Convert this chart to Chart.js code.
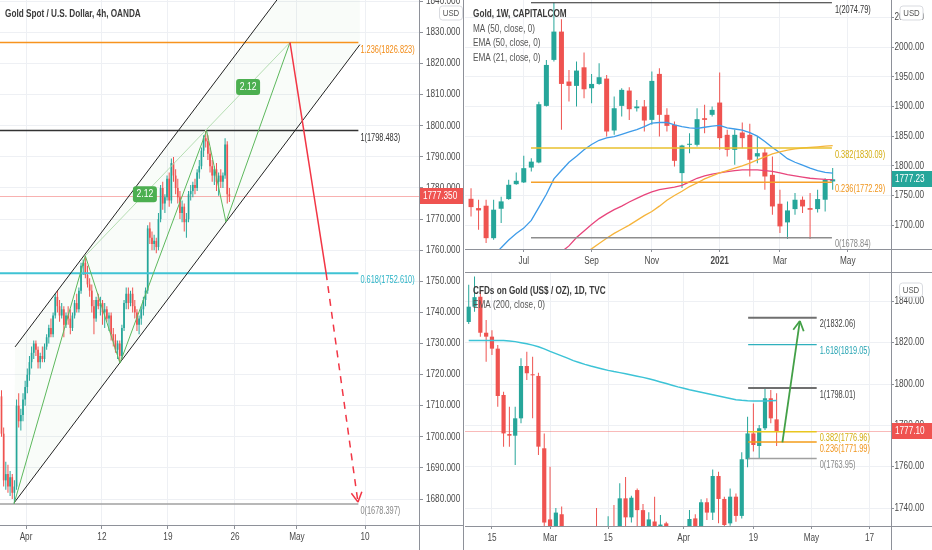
<!DOCTYPE html>
<html>
<head>
<meta charset="utf-8">
<title>Gold - 4h / 1W / 1D</title>
<script src="https://cdn.jsdelivr.net/npm/chart.js@4.4.1/dist/chart.umd.min.js"></script>
<style>
  html, body { margin: 0; padding: 0; background: #fff; }
  body { position: relative; width: 932px; height: 550px; overflow: hidden; }
  canvas { position: absolute; }
  #left { left: 0; top: 0; }
  #weekly { left: 465px; top: 0; }
  #daily { left: 465px; top: 273px; }
</style>
</head>
<body>
<canvas id="left" width="464" height="550"></canvas>
<canvas id="weekly" width="467" height="273"></canvas>
<canvas id="daily" width="467" height="277"></canvas>
<script>
const UP = '#26a69a';
const DOWN = '#ef5350';
const GRID = '#eef0f4';
const AXIS = '#8e9199';
const TXT = '#4a4a4a';
const FONT = '"Liberation Sans", Arial, sans-serif';

// ---- Gold Spot / U.S. Dollar, 4h, OANDA  [open, high, low, close]
const leftCandles = [
  [1713, 1715, 1700, 1701], [1701, 1703, 1684, 1686], [1686, 1692, 1683, 1688], [1688, 1691, 1682, 1684],
  [1684, 1689, 1681, 1687], [1687, 1688, 1680, 1682], [1682, 1686, 1678.4, 1684], [1684, 1712, 1683, 1710],
  [1710, 1714, 1703, 1705], [1705, 1709, 1702, 1707], [1707, 1714, 1705, 1712], [1712, 1718, 1710, 1716],
  [1716, 1722, 1714, 1720], [1720, 1726, 1718, 1724], [1724, 1729, 1722, 1727], [1727, 1731, 1725, 1730],
  [1730, 1731, 1726, 1728], [1728, 1729, 1722, 1724], [1724, 1727, 1722, 1726], [1726, 1729, 1724, 1725],
  [1725, 1730, 1724, 1729], [1729, 1733, 1728, 1732], [1732, 1736, 1730, 1735], [1735, 1738, 1732, 1733],
  [1733, 1740, 1732, 1739], [1739, 1746, 1738, 1745], [1745, 1747, 1740, 1742], [1742, 1744, 1737, 1739],
  [1739, 1743, 1738, 1741], [1741, 1742, 1732, 1736], [1736, 1740, 1735, 1739], [1739, 1742, 1736, 1738],
  [1738, 1741, 1733, 1735], [1735, 1740, 1734, 1739], [1739, 1744, 1738, 1743], [1743, 1746, 1740, 1741],
  [1741, 1748, 1740, 1747], [1747, 1756, 1746, 1755], [1755, 1757, 1752, 1756], [1756, 1758.2, 1751, 1752],
  [1752, 1755, 1748, 1749], [1749, 1751, 1745, 1747], [1747, 1749, 1740, 1742], [1742, 1744, 1733, 1738],
  [1738, 1745, 1737, 1744], [1744, 1746, 1741, 1742], [1742, 1745, 1739, 1743], [1743, 1744, 1736, 1740],
  [1740, 1743, 1735, 1741], [1741, 1742, 1737, 1738], [1738, 1740, 1734, 1739], [1739, 1740, 1731, 1733],
  [1733, 1735, 1729, 1731], [1731, 1733, 1727, 1728], [1728, 1731, 1725, 1730], [1730, 1731, 1723.7, 1726],
  [1726, 1736, 1725, 1735], [1735, 1744, 1734, 1743], [1743, 1748, 1741, 1746], [1746, 1748, 1741, 1743],
  [1743, 1747, 1742, 1746], [1746, 1748, 1740, 1742], [1742, 1744, 1738, 1740], [1740, 1741, 1734, 1736],
  [1736, 1739, 1733, 1738], [1738, 1742, 1736, 1741], [1741, 1745, 1739, 1744], [1744, 1748, 1742, 1747],
  [1747, 1768, 1746, 1767], [1767, 1769, 1762, 1764], [1764, 1766, 1760, 1762], [1762, 1765, 1760, 1763],
  [1763, 1764, 1759, 1761], [1761, 1772, 1760, 1770], [1770, 1781, 1769, 1780], [1780, 1782, 1773, 1775],
  [1775, 1778, 1772, 1777], [1777, 1784, 1776, 1783], [1783, 1785, 1774, 1776], [1776, 1789.5, 1775, 1788],
  [1788, 1790, 1782, 1784], [1784, 1786, 1778, 1780], [1780, 1783, 1775, 1777], [1777, 1779, 1770, 1772],
  [1772, 1776, 1769, 1774], [1774, 1775, 1766, 1769], [1769, 1772, 1764, 1770], [1770, 1779, 1769, 1778],
  [1778, 1781, 1776, 1779], [1779, 1782, 1777, 1781], [1781, 1783, 1778, 1780], [1780, 1786, 1779, 1785],
  [1785, 1789, 1783, 1787], [1787, 1793, 1786, 1792], [1792, 1797, 1790, 1796], [1796, 1798.48, 1793, 1795],
  [1795, 1797, 1789, 1791], [1791, 1793, 1785, 1787], [1787, 1789, 1782, 1784], [1784, 1787, 1781, 1786],
  [1786, 1788, 1779, 1782], [1782, 1785, 1777.5, 1784], [1784, 1786, 1780, 1782], [1782, 1785, 1780, 1784],
  [1784, 1796, 1783, 1794], [1794, 1795, 1775, 1778], [1778, 1780, 1775.5, 1777.35]
];
const leftPriceTicks = [1680, 1690, 1700, 1710, 1720, 1730, 1740, 1750, 1760, 1770, 1780, 1790, 1800, 1810, 1820, 1830, 1840];
const leftDateTicks = [11.4, 46.7, 77.4, 108.6, 137.4, 169.1];
const leftDateLabels = ['Apr', '12', '19', '26', 'May', '10'];
const leftFibLevels = [1.236, 1, 0.618, 0];
const leftFibPrices = [1826.823, 1798.483, 1752.61, 1678.397];
// drawing anchors, [bar, price]
const leftChannelLow = [[5.8, 1678.7], [166.7, 1826.1]];
const leftChannelHigh = [[6.3, 1728.9], [166.7, 1875.8]];
const leftZigzag = [[5.8, 1678.4], [39, 1758.2], [55.1, 1723.7], [95.4, 1798.48], [104.4, 1769.1], [134.2, 1826.82]];
const leftTarget = [[134.2, 1826.82], [151, 1752.61], [165.8, 1679]];
const leftRatioTags = [[66.7, 1778], [114.7, 1812.5]];

// ---- Gold, 1W, CAPITALCOM
const weekCandles = [
  [1744.4, 1762, 1714.7, 1730.4], [1728.7, 1742.8, 1692, 1724.8], [1732.7, 1742.8, 1669.8, 1678], [1678, 1742.8, 1675.4, 1726],
  [1727.6, 1748, 1703.5, 1740], [1743.9, 1776.4, 1742.8, 1768], [1769, 1788.8, 1768, 1774.7], [1772, 1816.8, 1770.8, 1796],
  [1797, 1812.9, 1790.5, 1807], [1805.6, 1908, 1804.5, 1903.8], [1901, 1978.5, 1899.9, 1970], [1978.5, 2074.79, 1975.6, 2026.2],
  [2026.2, 2047, 1860.6, 1938], [1942, 1961.6, 1908.3, 1934.7], [1934.7, 1975.6, 1899.9, 1960.5], [1966, 1990.8, 1913.9, 1929],
  [1930.7, 1954.9, 1905.5, 1938], [1938, 1972.8, 1936.4, 1949.3], [1947, 1953.2, 1849.4, 1857.8], [1859.5, 1916.7, 1852.2, 1897],
  [1901, 1930.7, 1883, 1928], [1926.8, 1932.4, 1877.4, 1895.4], [1897, 1911, 1891.5, 1900], [1900, 1911, 1857.8, 1876.3],
  [1877.4, 1958.8, 1869, 1943.1], [1954.9, 1964.4, 1849.4, 1885.9], [1885.9, 1897.1, 1857.8, 1867.3], [1869, 1874.6, 1798.9, 1808.4],
  [1787.7, 1835.4, 1762.4, 1834.2], [1835.4, 1855, 1821.3, 1837], [1835.4, 1897.1, 1832.5, 1878.6], [1880.2, 1902.7, 1855, 1877.4],
  [1885.9, 1899.9, 1883, 1894.3], [1906.6, 1957.1, 1826.9, 1846.6], [1852.2, 1860.6, 1815.7, 1826.9], [1826.9, 1860.6, 1801.7, 1852.2],
  [1856.1, 1873, 1829.7, 1846.6], [1852.2, 1870.7, 1782, 1810.1], [1815.7, 1849.4, 1804.5, 1821.3], [1822.4, 1829.7, 1759.6, 1782],
  [1784.8, 1815.7, 1717.5, 1731.5], [1736, 1759.6, 1686.6, 1697.9], [1704.6, 1740, 1676.5, 1724.8], [1727, 1754, 1717.5, 1742.8],
  [1742.8, 1748.4, 1720.3, 1731.5], [1728.7, 1754, 1676.5, 1725.9], [1727, 1759.6, 1721.4, 1743.9], [1742.8, 1779.2, 1723.1, 1776.4],
  [1773.6, 1796.1, 1759.6, 1777.23]
];
const weekMa50 = [
  null, null, null, null, null, null, null, null, null, null, null, null, null, null, null,
  1652, 1660, 1669, 1678, 1686, 1693, 1700, 1708, 1716, 1723, 1732, 1742, 1750, 1757, 1765, 1771, 1778,
  1783, 1788, 1792, 1796, 1800, 1804.5, 1810, 1815, 1820, 1823.5, 1826.5, 1828.5, 1830, 1831, 1832, 1833, 1834
];
const weekEma50 = [
  null, null, null, null, null, null, null, null, null, null, null, null,
  1655, 1665, 1679, 1690, 1701, 1711, 1719, 1726, 1732, 1739, 1745, 1751, 1756, 1760, 1762, 1764, 1767,
  1773, 1779, 1783, 1786, 1788, 1790, 1792, 1793, 1793, 1793, 1792, 1790.5, 1788, 1785, 1783, 1781, 1779,
  1778, 1777, 1776.5
];
const weekEma21 = [
  null, null, null, 1648, 1662, 1675, 1686, 1695, 1708, 1730, 1752, 1778, 1792, 1806, 1816, 1827, 1836,
  1843, 1847, 1849, 1853, 1857, 1861, 1866, 1872, 1873, 1873, 1869, 1866, 1864, 1863, 1865, 1867, 1868,
  1864, 1862, 1860, 1856, 1850, 1841, 1831, 1822, 1812, 1806, 1801, 1796, 1792, 1789, 1787.5
];
const weekPriceTicks = [1700, 1750, 1800, 1850, 1900, 1950, 2000, 2050];
const weekDateTicks = [7, 16, 24, 33, 41, 50];
const weekDateLabels = ['Jul', 'Sep', 'Nov', '2021', 'Mar', 'May'];
const weekFibLevels = [1, 0.382, 0.236, 0];
const weekFibPrices = [2074.79, 1830.09, 1772.29, 1678.84];

// ---- CFDs on Gold (US$ / OZ), 1D, TVC
const dayCandles = [
  [1830, 1848, 1829, 1837.4], [1837.4, 1852, 1835, 1842], [1842.2, 1845.5, 1822.9, 1824.8], [1824.8, 1831, 1810.8, 1822.9],
  [1822.9, 1826, 1814, 1817.1], [1817.1, 1818.9, 1789, 1794.2], [1794.7, 1796.3, 1769.7, 1776.1], [1775.8, 1789, 1769.7, 1775],
  [1775, 1789, 1760.8, 1783.4], [1783.4, 1812.4, 1781, 1808.7], [1808.7, 1815.6, 1801.9, 1805.2], [1804.7, 1813.2, 1783.4, 1804.2],
  [1803.9, 1805.5, 1765.7, 1769.7], [1768.9, 1776.1, 1716, 1733], [1734.5, 1760, 1717, 1723], [1723, 1740, 1720, 1737.8],
  [1737, 1740.7, 1711, 1715], [1715, 1717, 1687, 1698], [1698, 1703, 1677, 1700], [1700, 1701, 1676, 1683],
  [1683, 1720, 1680, 1716], [1716, 1727, 1713, 1726], [1726, 1740, 1715, 1722], [1722, 1728, 1699, 1719],
  [1719, 1736, 1717, 1730], [1731, 1741.5, 1723, 1729], [1729, 1752, 1720, 1744.7], [1744.7, 1755, 1731, 1735.5],
  [1735.5, 1746, 1733, 1745], [1748.7, 1749.5, 1730, 1739], [1739, 1742, 1722, 1726], [1726, 1738, 1723, 1734.5],
  [1733.5, 1745.5, 1720, 1727], [1727, 1736.6, 1721, 1732], [1732.6, 1733.4, 1705, 1712], [1712, 1715, 1678, 1685],
  [1685, 1718, 1677, 1708], [1708, 1730, 1705, 1728], [1728, 1739, 1720, 1734.7], [1735, 1737, 1727, 1729],
  [1729, 1744.2, 1728, 1742.8], [1742.8, 1744.7, 1734.2, 1737.8], [1737.8, 1758.7, 1734.2, 1755.5], [1755.5, 1757.6, 1732.6, 1744.4],
  [1744.4, 1745.5, 1728, 1731.8], [1732.6, 1749.5, 1731.5, 1745.5], [1745.5, 1747, 1733.4, 1736.2], [1736.2, 1767, 1735, 1763.6],
  [1763.6, 1784.2, 1759.7, 1776.1], [1776.1, 1790.6, 1767.3, 1770.5], [1770, 1780.2, 1764, 1778.6], [1778.6, 1797.6, 1777.8, 1793.1],
  [1793.1, 1797.1, 1781, 1783.4], [1782.9, 1795.5, 1770, 1777.1]
];
const dayEma200 = [
  1821, 1821, 1821, 1821, 1821, 1821, 1821, 1820.8, 1820.5, 1820, 1819.5, 1818.8, 1818, 1817, 1815.8, 1814.7,
  1813.6, 1812.5, 1811.3, 1810.4, 1809.5, 1808.7, 1808, 1807.3, 1806.6, 1806, 1805.5, 1805, 1804.4, 1803.8,
  1803.2, 1802.5, 1801.8, 1801, 1800.2, 1799.4, 1798.6, 1797.9, 1797.2, 1796.6, 1796, 1795.4, 1794.8, 1794.2,
  1793.6, 1793, 1792.4, 1792.1, 1791.9, 1791.8, 1791.8, 1791.8, 1791.9, 1792
];
const dayPriceTicks = [1740, 1760, 1780, 1800, 1820, 1840];
const dayDateTicks = [4, 14, 24, 37, 49, 59, 69];
const dayDateLabels = ['15', 'Mar', '15', 'Apr', '19', 'May', '17'];
const dayFibLevels = [2, 1.618, 1, 0.382, 0.236, 0];
const dayFibPrices = [1832.06, 1819.05, 1798.01, 1776.96, 1771.99, 1763.95];
const dayArrow = [[54, 1771.8], [57, 1830.5]];

// ---------- helpers ----------
function txt(ctx, s, x, y, color, size = 10, weight = 'normal', align = 'left', sx = 0.82) {
  ctx.save();
  ctx.font = weight + ' ' + size + 'px ' + FONT;
  ctx.fillStyle = color;
  ctx.textAlign = align;
  ctx.textBaseline = 'middle';
  ctx.translate(x, y);
  ctx.scale(sx, 1); // the snapshot's text is narrow
  ctx.fillText(s, 0, 0);
  ctx.restore();
}

function poly(ctx, pts, color, w, dash) {
  ctx.save();
  ctx.strokeStyle = color;
  ctx.lineWidth = w;
  ctx.setLineDash(dash || []);
  ctx.beginPath();
  pts.forEach((p, i) => i ? ctx.lineTo(p[0], p[1]) : ctx.moveTo(p[0], p[1]));
  ctx.stroke();
  ctx.restore();
}

function arrowHead(ctx, from, to, color, w) {
  const ang = Math.atan2(to[1] - from[1], to[0] - from[0]);
  ctx.save();
  ctx.strokeStyle = color;
  ctx.lineWidth = w;
  ctx.beginPath();
  [-1, 1].forEach(s => {
    ctx.moveTo(to[0], to[1]);
    ctx.lineTo(to[0] - 11 * Math.cos(ang + s * 0.5), to[1] - 11 * Math.sin(ang + s * 0.5));
  });
  ctx.stroke();
  ctx.restore();
}

function priceTag(ctx, a, y, s, color, w) {
  ctx.fillStyle = color;
  ctx.fillRect(a.right + 1, Math.round(y) - 8, w, 16);
  txt(ctx, s, a.right + 4, y, '#fff');
}

function usdBox(ctx, cx, cy) {
  ctx.save();
  ctx.fillStyle = '#fff';
  ctx.strokeStyle = '#d9dbe0';
  ctx.beginPath();
  ctx.roundRect(cx - 11.5, cy - 7, 23, 14, 3);
  ctx.fill();
  ctx.stroke();
  ctx.restore();
  txt(ctx, 'USD', cx, cy, '#555', 9.5, 'normal', 'center');
}

function ratioTag(ctx, x, y) {
  ctx.fillStyle = '#4caf50';
  ctx.beginPath();
  ctx.roundRect(x - 12, y - 8, 24, 16, 3);
  ctx.fill();
  txt(ctx, '2.12', x, y, '#fff', 10.5, 'normal', 'center');
}

function fibLabel(ctx, s, x, y, color) {
  txt(ctx, s, x, y, color, 10, 'normal', 'left', 0.74);
}

function axisFrame(ctx, chart, a, o) {
  const X = v => chart.scales.x.getPixelForValue(v);
  const Y = v => chart.scales.y.getPixelForValue(v);
  o.priceTicks.forEach(p => {
    const y = Y(p);
    if (y > a.top - 6 && y < a.bottom + 3) txt(ctx, p.toFixed(o.dec), a.right + o.gap, y, TXT);
  });
  o.dateTicks.forEach((v, i) => {
    const bold = o.dateLabels[i] === '2021' ? 'bold' : 'normal';
    txt(ctx, o.dateLabels[i], X(v), a.bottom + 12, TXT, 10, bold, 'center');
  });
  ctx.save();
  ctx.strokeStyle = AXIS;
  ctx.lineWidth = 1;
  ctx.beginPath();
  const rx = Math.round(a.right) + 0.5, by = Math.round(a.bottom) + 0.5;
  ctx.moveTo(rx, a.bottom); ctx.lineTo(rx, chart.height);
  ctx.moveTo(a.right, by); ctx.lineTo(chart.width, by);
  ctx.stroke();
  ctx.restore();
}

function drawings(hooks) {
  const run = (chart, key) => {
    if (!hooks[key]) return;
    const ctx = chart.ctx, a = chart.chartArea;
    const X = v => chart.scales.x.getPixelForValue(v);
    const Y = v => chart.scales.y.getPixelForValue(v);
    const P = p => [X(p[0]), Y(p[1])];
    ctx.save();
    if (key !== 'frame') {
      ctx.beginPath();
      ctx.rect(a.left, a.top, a.right - a.left, a.bottom - a.top);
      ctx.clip();
    }
    hooks[key](ctx, X, Y, P, a, chart);
    ctx.restore();
  };
  return {
    id: 'drawings',
    beforeDatasetsDraw: c => run(c, 'under'),
    afterDatasetsDraw: c => run(c, 'over'),
    afterDraw: c => run(c, 'frame')
  };
}

function candleSets(rows, bodyW) {
  const colors = rows.map(r => r[3] >= r[0] ? UP : DOWN);
  return [
    { type: 'bar', data: rows.map((r, i) => ({ x: i, y: [r[2], r[1]] })), backgroundColor: colors,
      barThickness: 1, minBarLength: 1, grouped: false, inflateAmount: 0, order: 3 },
    { type: 'bar', data: rows.map((r, i) => ({ x: i, y: [r[0], r[3]] })), backgroundColor: colors,
      barThickness: bodyW, minBarLength: 1, grouped: false, inflateAmount: 0, order: 2 }
  ];
}

function maLine(values, color, w) {
  const pts = [];
  values.forEach((v, i) => { if (v !== null) pts.push({ x: i, y: v }); });
  return { type: 'line', data: pts, borderColor: color, borderWidth: w, pointRadius: 0, fill: false, tension: 0, order: 1 };
}

function baseOptions(o) {
  const grid = { color: GRID, tickColor: AXIS, tickLength: o.tickLen, offset: false };
  return {
    responsive: false,
    animation: false,
    events: [],
    layout: { padding: 0 },
    plugins: { legend: { display: false }, tooltip: { enabled: false } },
    scales: {
      x: {
        type: 'linear', min: o.xMin, max: o.xMax, offset: false, bounds: 'data',
        grid, border: { color: AXIS }, ticks: { display: false, autoSkip: false },
        afterBuildTicks: s => { s.ticks = o.xTicks.map(v => ({ value: v })); },
        afterFit: s => { s.height = o.xHeight; }
      },
      y: {
        type: 'linear', position: 'right', min: o.yMin, max: o.yMax, bounds: 'data', beginAtZero: false,
        grid, border: { color: AXIS }, ticks: { display: false },
        afterBuildTicks: s => { s.ticks = o.yTicks.map(v => ({ value: v })); },
        afterFit: s => { s.width = o.yWidth; }
      }
    }
  };
}

// ---------- left: 4h ----------
const leftLast = leftCandles[leftCandles.length - 1][3];
const leftFibColors = ['#f7931e', '#333333', '#3fc3d4', '#a0a0a0'];
const leftFibText = ['#f28c18', '#333333', '#2bb3c6', '#888888'];
const leftFibWidths = [1.5, 1.5, 2, 1.5];

new Chart(document.getElementById('left'), {
  type: 'bar',
  data: { datasets: candleSets(leftCandles, 1.7) },
  options: baseOptions({ xMin: -0.7, xMax: 194.2, yMin: 1671.64, yMax: 1840.45,
    xTicks: leftDateTicks, yTicks: leftPriceTicks, yWidth: 45, xHeight: 25, tickLen: 4 }),
  plugins: [drawings({
    under: (ctx, X, Y, P, a) => {
      ctx.fillStyle = 'rgba(76,175,80,0.035)';
      ctx.beginPath();
      [leftChannelLow[0], leftChannelLow[1], leftChannelHigh[1], leftChannelHigh[0]].map(P)
        .forEach((p, i) => i ? ctx.lineTo(p[0], p[1]) : ctx.moveTo(p[0], p[1]));
      ctx.closePath();
      ctx.fill();
      const y = Math.round(Y(leftLast)) + 0.5;
      poly(ctx, [[a.left, y], [a.right, y]], 'rgba(239,83,80,0.45)', 1);
    },
    over: (ctx, X, Y, P, a) => {
      const end = X(166);
      leftFibLevels.forEach((lv, i) => {
        const y = Y(leftFibPrices[i]);
        poly(ctx, [[a.left, y], [end, y]], leftFibColors[i], leftFibWidths[i]);
        fibLabel(ctx, lv + '(' + leftFibPrices[i].toFixed(3) + ')', end + 2, y + 7.5, leftFibText[i]);
      });
      poly(ctx, leftChannelLow.map(P), '#222', 1);
      poly(ctx, leftChannelHigh.map(P), '#222', 1);
      poly(ctx, [leftZigzag[1], leftZigzag[5]].map(P), '#b5ddb2', 1);
      poly(ctx, leftZigzag.map(P), '#5cb85c', 1);
      poly(ctx, leftTarget.slice(0, 2).map(P), '#f23645', 1.5);
      poly(ctx, leftTarget.slice(1).map(P), '#f23645', 1.5, [7, 6]);
      arrowHead(ctx, P(leftTarget[1]), P(leftTarget[2]), '#f23645', 1.5);
      leftRatioTags.forEach(p => ratioTag(ctx, X(p[0]), Y(p[1])));
    },
    frame: (ctx, X, Y, P, a, chart) => {
      axisFrame(ctx, chart, a, { priceTicks: leftPriceTicks, dec: 3, gap: 7, dateTicks: leftDateTicks, dateLabels: leftDateLabels });
      priceTag(ctx, a, Y(leftLast), leftLast.toFixed(3), DOWN, 43);
      usdBox(ctx, 451, 13);
      txt(ctx, 'Gold Spot / U.S. Dollar, 4h, OANDA', 5, 14.5, '#3a3a3a', 10, 'bold');
      ctx.fillStyle = AXIS;
      ctx.fillRect(463, 0, 1, chart.height);
    }
  })]
});

// ---------- right top: 1W ----------
const weekLast = weekCandles[weekCandles.length - 1][3];
const weekFibColors = ['#2a2a2a', '#e9c12e', '#f5a02a', '#8d8d8d'];
const weekFibText = ['#333333', '#d4ad12', '#f0951c', '#888888'];

new Chart(document.getElementById('weekly'), {
  type: 'bar',
  data: { datasets: [
    ...candleSets(weekCandles, 5),
    maLine(weekMa50, '#f6b43b', 1.3),
    maLine(weekEma50, '#e8457c', 1.3),
    maLine(weekEma21, '#3d9be9', 1.3)
  ] },
  options: baseOptions({ xMin: -0.8, xMax: 55.74, yMin: 1659.76, yMax: 2079.46,
    xTicks: weekDateTicks, yTicks: weekPriceTicks, yWidth: 41, xHeight: 24, tickLen: 3 }),
  plugins: [drawings({
    over: (ctx, X, Y) => {
      const x1 = X(7.96), x2 = X(47.9);
      weekFibLevels.forEach((lv, i) => {
        const y = Y(weekFibPrices[i]);
        poly(ctx, [[x1, y], [x2, y]], weekFibColors[i], i === 0 ? 1.2 : 1.5);
        fibLabel(ctx, lv + '(' + weekFibPrices[i].toFixed(2) + ')', x2 + 3, y + 7, weekFibText[i]);
      });
    },
    frame: (ctx, X, Y, P, a, chart) => {
      axisFrame(ctx, chart, a, { priceTicks: weekPriceTicks, dec: 2, gap: 3.5, dateTicks: weekDateTicks, dateLabels: weekDateLabels });
      priceTag(ctx, a, Y(weekLast), weekLast.toFixed(2), UP, 41);
      usdBox(ctx, 446.5, 13);
      txt(ctx, 'Gold, 1W, CAPITALCOM', 8, 14, '#3a3a3a', 10, 'bold');
      txt(ctx, 'MA (50, close, 0)', 8, 29, '#555');
      txt(ctx, 'EMA (50, close, 0)', 8, 43.7, '#555');
      txt(ctx, 'EMA (21, close, 0)', 8, 58.3, '#555');
      ctx.fillStyle = AXIS;
      ctx.fillRect(0, chart.height - 1, chart.width, 1);
    }
  })]
});

// ---------- right bottom: 1D ----------
const dayLast = dayCandles[dayCandles.length - 1][3];
const dayFibColors = ['#6f6f6f', '#2fb0bd', '#6f6f6f', '#e9c61f', '#f39c1a', '#a0a0a0'];
const dayFibText = ['#444444', '#26a4b3', '#444444', '#d4ad12', '#f0951c', '#888888'];
const dayFibWidths = [2, 1.2, 2, 1.5, 1.5, 1.5];

new Chart(document.getElementById('daily'), {
  type: 'bar',
  data: { datasets: [
    ...candleSets(dayCandles, 4.2),
    maLine(dayEma200, '#3cc3d6', 1.5)
  ] },
  options: baseOptions({ xMin: -0.64, xMax: 72.69, yMin: 1731.32, yMax: 1853.69,
    xTicks: dayDateTicks, yTicks: dayPriceTicks, yWidth: 41, xHeight: 24, tickLen: 3 }),
  plugins: [drawings({
    under: (ctx, X, Y, P, a) => {
      const y = Math.round(Y(dayLast)) + 0.5;
      poly(ctx, [[a.left, y], [a.right, y]], 'rgba(239,83,80,0.4)', 1);
    },
    over: (ctx, X, Y, P) => {
      const x1 = X(48.1), x2 = X(59.9);
      dayFibLevels.forEach((lv, i) => {
        const y = Y(dayFibPrices[i]);
        poly(ctx, [[x1, y], [x2, y]], dayFibColors[i], dayFibWidths[i]);
        fibLabel(ctx, lv + '(' + dayFibPrices[i].toFixed(2) + ')', x2 + 3, y + 7, dayFibText[i]);
      });
      poly(ctx, dayArrow.map(P), '#43a047', 1.8);
      arrowHead(ctx, P(dayArrow[0]), P(dayArrow[1]), '#43a047', 1.8);
    },
    frame: (ctx, X, Y, P, a, chart) => {
      axisFrame(ctx, chart, a, { priceTicks: dayPriceTicks, dec: 2, gap: 3.5, dateTicks: dayDateTicks, dateLabels: dayDateLabels });
      priceTag(ctx, a, Y(dayLast), dayLast.toFixed(2), DOWN, 41);
      usdBox(ctx, 446, 17);
      txt(ctx, 'CFDs on Gold (US$ / OZ), 1D, TVC', 8, 18.7, '#3a3a3a', 10, 'bold');
      txt(ctx, 'EMA (200, close, 0)', 8, 32.7, '#555');
    }
  })]
});
</script>
</body>
</html>
